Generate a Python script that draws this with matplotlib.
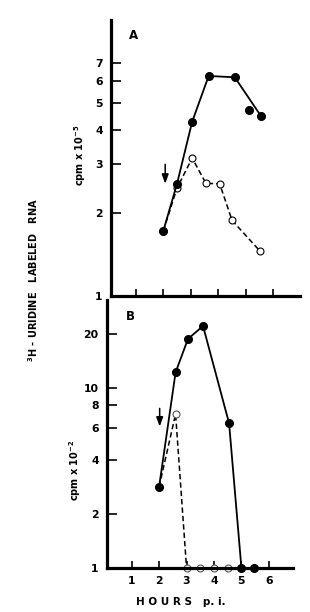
import matplotlib
matplotlib.use("Agg")
import matplotlib.pyplot as plt

# panel A  (cpm x 10^-5)
hours_a = [2.0, 2.5, 3.05, 3.65, 4.6, 5.55]
cpm_a = [1.72, 2.55, 4.28, 6.27, 6.2, 4.49]
hours_a_extra = [5.1]
cpm_a_extra = [4.72]
hours_a_open = [2.0, 2.5, 3.05, 3.55, 4.05, 4.5, 5.5]
cpm_a_open = [1.72, 2.46, 3.16, 2.56, 2.55, 1.88, 1.46]

# panel B  (cpm x 10^-2)
hours_b = [2.0, 2.6, 3.05, 3.6, 4.55, 5.0, 5.45]
cpm_b = [2.83, 12.2, 18.7, 22.1, 6.37, 1.0, 1.0]
hours_b_open = [2.0, 2.6, 3.0, 3.5, 4.0, 4.5]
cpm_b_open = [2.83, 7.16, 1.0, 1.0, 1.0, 1.0]

yticks_a = [1, 2, 3, 4, 5, 6, 7]
yticks_b = [1, 2, 4, 6, 8, 10, 20]
xticks = [1, 2, 3, 4, 5, 6]

plt.rcParams['font.family'] = 'DejaVu Sans'
plt.rcParams['font.weight'] = 'bold'

fig = plt.figure(figsize=(3.1, 6.12), dpi=100)
ax_a = fig.add_axes([111 / 310, 1 - 296 / 612, 189 / 310, 276 / 612])
ax_b = fig.add_axes([107 / 310, 1 - 568 / 612, 186 / 310, 268 / 612])

arrow_props = dict(arrowstyle='-|>,head_length=0.55,head_width=0.2',
                   color='black', lw=1.1, shrinkA=0, shrinkB=0)


def style(ax):
    ax.set_yscale('log')
    for s in ['top', 'right']:
        ax.spines[s].set_visible(False)
    for s in ['left', 'bottom']:
        ax.spines[s].set_linewidth(2.3)
    ax.minorticks_off()
    ax.tick_params(direction='in', length=5, width=1.2, labelsize=7.8)
    ax.tick_params(axis='y', length=7, pad=6)
    ax.set_xticks(xticks)


style(ax_a)
ax_a.set_xlim(0.1, 6.97)
ax_a.set_ylim(1, 10)
ax_a.set_yticks(yticks_a)
ax_a.set_yticklabels([str(t) for t in yticks_a])
ax_a.tick_params(axis='x', labelbottom=False)

ax_a.plot(hours_a_open, cpm_a_open, '--', color='black', lw=1.1, dashes=(3.5, 2),
          marker='o', ms=5, mfc='white', mec='black', mew=0.8)
ax_a.plot(hours_a, cpm_a, '-', color='black', lw=1.3, marker='o', ms=5.5)
ax_a.plot(hours_a_extra, cpm_a_extra, 'o', color='black', ms=5.5)
ax_a.annotate('', xy=(2.07, 2.55), xytext=(2.07, 3.0), arrowprops=arrow_props)
ax_a.text(0.75, 8.8, 'A', fontsize=8.5, fontweight='bold', va='center')

style(ax_b)
ax_b.set_xlim(0.1, 6.88)
ax_b.set_ylim(1, 30.8)
ax_b.set_yticks(yticks_b)
ax_b.set_yticklabels([str(t) for t in yticks_b])
ax_b.set_xticklabels([str(t) for t in xticks])
ax_b.tick_params(axis='x', pad=6)

ax_b.plot(hours_b_open, cpm_b_open, '--', color='black', lw=1.1, dashes=(3.5, 2),
          marker='o', ms=5, mfc='white', mec='#555555', mew=0.8, clip_on=False)
ax_b.plot(hours_b, cpm_b, '-', color='black', lw=1.3, marker='o', ms=5.5,
          clip_on=False)
ax_b.annotate('', xy=(2.02, 6.1), xytext=(2.02, 7.7), arrowprops=arrow_props)
ax_b.text(0.8, 24.9, 'B', fontsize=8.5, fontweight='bold', va='center')

fig.text(80 / 310, 1 - 155 / 612, r'cpm x 10$^{-5}$', rotation=90, fontsize=7,
         fontweight='bold', ha='center', va='center')
fig.text(75 / 310, 1 - 470 / 612, r'cpm x 10$^{-2}$', rotation=90, fontsize=7,
         fontweight='bold', ha='center', va='center')
fig.text(33 / 310, 1 - 280 / 612, r'$^{3}$H - URIDINE   LABELED   RNA', rotation=90,
         fontsize=7, fontweight='bold', ha='center', va='center')
fig.text(181 / 310, 1 - 602 / 612, 'H O U R S   p. i.', fontsize=7.5,
         fontweight='bold', ha='center', va='center')

fig.savefig('out.png', dpi=100)
